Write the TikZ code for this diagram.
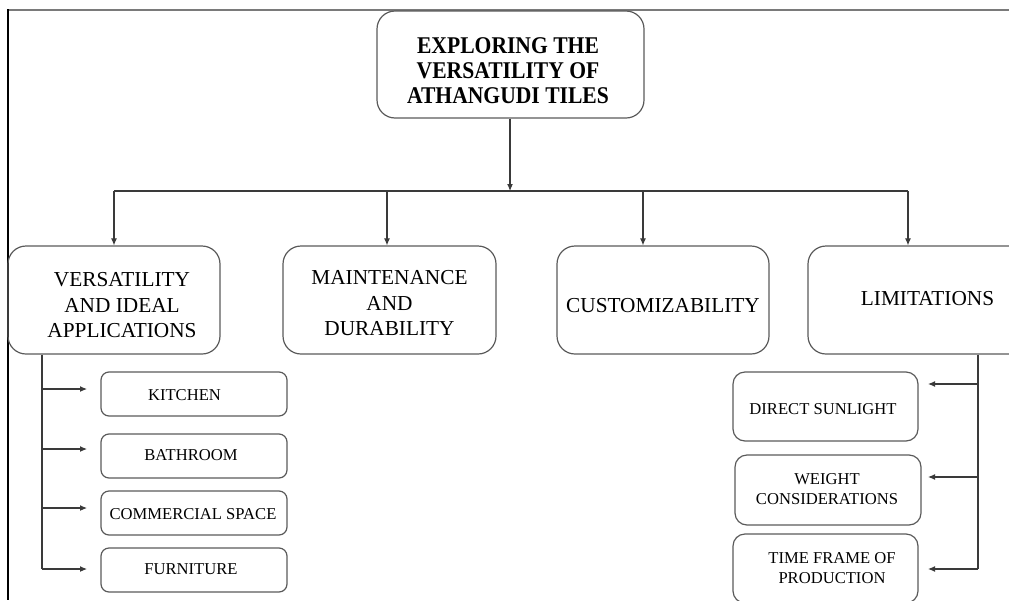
\documentclass[tikz,border=0pt]{standalone}
\usepackage{fontspec}
\setmainfont{Liberation Serif}
\newfontfamily\titlefont[FakeStretch=0.9]{Liberation Serif}
\usetikzlibrary{arrows.meta}
\definecolor{boxgray}{HTML}{5A5A5A}
\definecolor{linegray}{HTML}{3A3A3A}
\definecolor{framegray}{HTML}{7A7A7A}
% shift the text inside a box by (#1,#2) without changing the box
\newcommand\mvtext[3]{\raisebox{#2}[\height][\depth]{\kern#1\begin{tabular}{@{}c@{}}#3\end{tabular}\kern-#1}}
\begin{document}
\begin{tikzpicture}[x=1pt,y=-1pt,
  box/.style={draw=boxgray, line width=1.2pt, inner sep=0pt, text=black},
  titlebox/.style={box, rounded corners=18pt, minimum width=267pt, minimum height=107pt,
    font=\titlefont\bfseries\fontsize{24}{25}\selectfont},
  bigbox/.style={box, rounded corners=18pt, minimum width=212pt, minimum height=108pt,
    font=\fontsize{21.3}{25.5}\selectfont},
  subbox/.style={box, rounded corners=8pt, minimum width=186pt, minimum height=44pt,
    font=\fontsize{16.6}{20}\selectfont},
  limbox/.style={box, rounded corners=12pt, minimum width=185pt, minimum height=69pt,
    font=\fontsize{16.6}{20}\selectfont},
  conn/.style={draw=linegray, line width=1.1pt},
  arr/.style={conn, -{Latex[length=7pt,width=6pt]}},
]
\useasboundingbox (0,0) rectangle (1009,600);
% frame
\draw[framegray, line width=2pt] (7,9.7) -- (1009,9.7);
\draw[black, line width=1.3pt] (8,9) -- (8,600);

% nodes
\node[titlebox] (title) at (510.5,64.5) {\mvtext{-2.5pt}{-8.5pt}{EXPLORING THE\\VERSATILITY OF\\ATHANGUDI TILES}};

\node[bigbox] (v1) at (114,300) {\mvtext{8pt}{-7pt}{VERSATILITY\\AND IDEAL\\APPLICATIONS}};
\node[bigbox, minimum width=213pt] (v2) at (389.5,300) {\mvtext{0pt}{-5pt}{MAINTENANCE\\AND\\DURABILITY}};
\node[bigbox] (v3) at (663,300) {\mvtext{0pt}{-7pt}{CUSTOMIZABILITY}};
\node[bigbox, minimum width=239pt] (v4) at (927.5,300) {\mvtext{0pt}{0pt}{LIMITATIONS}};

\node[subbox] (kit) at (194,394) {\mvtext{-9.5pt}{-2.5pt}{KITCHEN}};
\node[subbox] (bath) at (194,456) {\mvtext{-3pt}{0pt}{BATHROOM}};
\node[subbox] (com) at (194,513) {\mvtext{-1pt}{-2.5pt}{COMMERCIAL SPACE}};
\node[subbox] (fur) at (194,570) {\mvtext{-3pt}{-0.5pt}{FURNITURE}};

\node[limbox] (sun) at (825.5,406.5) {\mvtext{-2.5pt}{-4pt}{DIRECT SUNLIGHT}};
\node[limbox, minimum width=186pt, minimum height=70pt] (wei) at (828,490) {\mvtext{-1pt}{-0.5pt}{WEIGHT\\CONSIDERATIONS}};
\node[limbox] (tim) at (825.5,568.5) {\mvtext{6.5pt}{-0.5pt}{TIME FRAME OF\\PRODUCTION}};

% top-level connectors
\coordinate (bus) at (510,191);
\coordinate (s1) at (114,191);
\coordinate (s2) at (387,191);
\coordinate (s3) at (643,191);
\coordinate (s4) at (908,191);
\draw[conn] (s1) -- (s4);
\draw[arr] (title.south -| bus) -- (bus);
\draw[arr] (s1) -- (s1 |- v1.north);
\draw[arr] (s2) -- (s2 |- v2.north);
\draw[arr] (s3) -- (s3 |- v3.north);
\draw[arr] (s4) -- (s4 |- v4.north);

% left branch
\coordinate (lb) at (42,569);
\coordinate (ak) at (87,389);
\coordinate (ab) at (87,449);
\coordinate (ac) at (87,508);
\coordinate (af) at (87,569);
\draw[conn] (v1.south -| lb) -- (lb);
\draw[arr] (ak -| lb) -- (ak);
\draw[arr] (ab -| lb) -- (ab);
\draw[arr] (ac -| lb) -- (ac);
\draw[arr] (af -| lb) -- (af);

% right branch
\coordinate (rb) at (978,569);
\coordinate (as) at (928,384);
\coordinate (aw) at (928,477);
\coordinate (at) at (928,569);
\draw[conn] (v4.south -| rb) -- (rb);
\draw[arr] (as -| rb) -- (as);
\draw[arr] (aw -| rb) -- (aw);
\draw[arr] (at -| rb) -- (at);
\end{tikzpicture}
\end{document}
